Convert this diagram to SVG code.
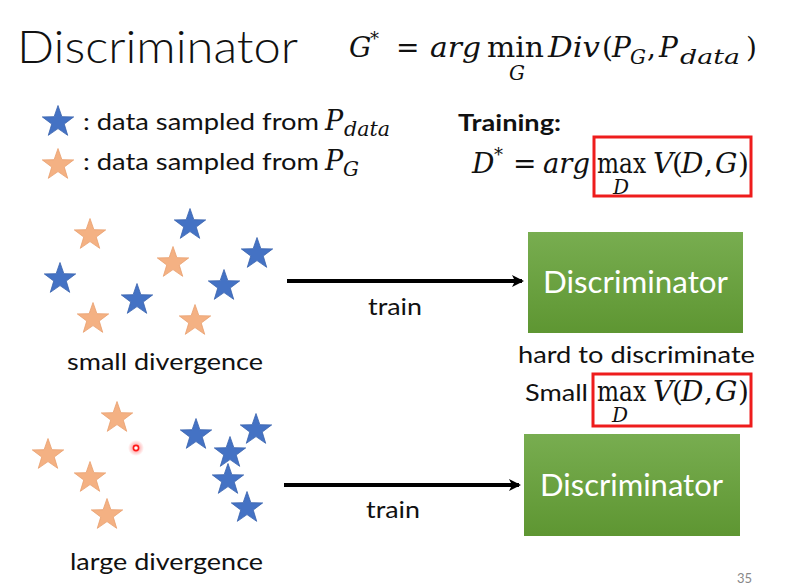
<svg xmlns="http://www.w3.org/2000/svg" width="798" height="588" viewBox="0 0 798 588">
  <style>
    .sans { font-family: Lato, "Open Sans", "Liberation Sans", sans-serif; fill: #111; }
    .math { font-family: "DejaVu Serif", "Liberation Serif", serif; fill: #111; }
    .it { font-style: italic; }
    .box-label { font-family: Lato, "Open Sans", "Liberation Sans", sans-serif; fill: #ffffff; font-size: 31px; }
    .conn { stroke: #000; stroke-width: 4; fill: none; }
    .hl { fill: none; stroke: #ee1c1c; stroke-width: 3; }
    .blue { fill: #4472c4; stroke: #3a63ad; stroke-width: 0.8; }
    .orange { fill: #f4b183; stroke: #e9a06e; stroke-width: 0.8; }
  </style>
  <defs>
    <path id="star" d="M0,-16.5 L3.88,-5.34 L15.69,-5.1 L6.28,2.04 L9.7,13.35 L0,6.6 L-9.7,13.35 L-6.28,2.04 L-15.69,-5.1 L-3.88,-5.34 Z"/>
    <linearGradient id="green" x1="0" y1="0" x2="0" y2="1">
      <stop offset="0" stop-color="#78ad50"/>
      <stop offset="1" stop-color="#5e9632"/>
    </linearGradient>
    <marker id="arrow" markerWidth="12" markerHeight="12" refX="10" refY="6" orient="auto" markerUnits="userSpaceOnUse">
      <path d="M0,0 L12,6 L0,12 L3,6 Z" fill="#000"/>
    </marker>
    <radialGradient id="glow">
      <stop offset="0" stop-color="#ff3030" stop-opacity="0.6"/>
      <stop offset="1" stop-color="#ff3030" stop-opacity="0"/>
    </radialGradient>
  </defs>
  <rect width="798" height="588" fill="#ffffff"/>

  <!-- title -->
  <text id="title" class="sans" x="17" y="63" font-size="45" font-weight="300" textLength="281" lengthAdjust="spacingAndGlyphs">Discriminator</text>

  <!-- objective for G -->
  <g id="objective-g" class="math" font-size="28">
    <text x="349" y="57" class="it">G</text>
    <text x="370" y="45" font-size="18">*</text>
    <text x="396" y="57">=</text>
    <text x="430" y="57" class="it" textLength="51" lengthAdjust="spacingAndGlyphs">arg</text>
    <text x="487" y="57" textLength="57" lengthAdjust="spacingAndGlyphs">min</text>
    <text x="509" y="80" class="it" font-size="20">G</text>
    <text x="548" y="57" class="it" textLength="52" lengthAdjust="spacingAndGlyphs">Div</text>
    <text x="602" y="57">(</text>
    <text x="612" y="57" class="it">P</text>
    <text x="630" y="64" class="it" font-size="20">G</text>
    <text x="647" y="57">,</text>
    <text x="659" y="57" class="it">P</text>
    <text x="680" y="64" class="it" font-size="21" textLength="60" lengthAdjust="spacingAndGlyphs">data</text>
    <text x="746" y="57">)</text>
  </g>

  <!-- legend -->
  <g id="legend">
    <use href="#star" class="blue" x="58" y="122"/>
    <text class="sans" x="83" y="130" font-size="24" textLength="236" lengthAdjust="spacingAndGlyphs">: data sampled from</text>
    <text class="math it" x="325" y="130" font-size="27">P</text>
    <text class="math it" x="344" y="136" font-size="20" textLength="46" lengthAdjust="spacingAndGlyphs">data</text>
    <use href="#star" class="orange" x="58" y="165"/>
    <text class="sans" x="83" y="170" font-size="24" textLength="236" lengthAdjust="spacingAndGlyphs">: data sampled from</text>
    <text class="math it" x="325" y="170" font-size="27">P</text>
    <text class="math it" x="343" y="176" font-size="20">G</text>
  </g>

  <!-- training objective for D -->
  <g id="training">
    <text class="sans" x="458" y="131" font-size="23" font-weight="bold" textLength="103" lengthAdjust="spacingAndGlyphs">Training:</text>
    <g class="math" font-size="28">
      <text x="472" y="173" class="it">D</text>
      <text x="494" y="161" font-size="18">*</text>
      <text x="513" y="173">=</text>
      <text x="543" y="173" class="it" textLength="47" lengthAdjust="spacingAndGlyphs">arg</text>
      <text x="597" y="173" textLength="49" lengthAdjust="spacingAndGlyphs">max</text>
      <text x="613" y="194" class="it" font-size="20">D</text>
      <text x="653" y="173" class="it">V</text>
      <text x="672" y="173">(</text>
      <text x="681" y="173" class="it">D</text>
      <text x="704" y="173">,</text>
      <text x="715" y="173" class="it">G</text>
      <text x="738" y="173">)</text>
    </g>
    <rect class="hl" x="594" y="137" width="157" height="59"/>
  </g>

  <!-- small divergence sample cloud -->
  <g id="small-divergence">
    <use href="#star" class="orange" x="90" y="235"/>
    <use href="#star" class="orange" x="173" y="263"/>
    <use href="#star" class="orange" x="93" y="319"/>
    <use href="#star" class="orange" x="195" y="321"/>
    <use href="#star" class="blue" x="190" y="225"/>
    <use href="#star" class="blue" x="257" y="254"/>
    <use href="#star" class="blue" x="60" y="279"/>
    <use href="#star" class="blue" x="137" y="300"/>
    <use href="#star" class="blue" x="224" y="286"/>
    <text class="sans" x="67" y="370" font-size="24" textLength="196" lengthAdjust="spacingAndGlyphs">small divergence</text>
  </g>

  <!-- large divergence sample cloud -->
  <g id="large-divergence">
    <use href="#star" class="orange" x="117" y="418"/>
    <use href="#star" class="orange" x="48" y="455"/>
    <use href="#star" class="orange" x="90" y="478"/>
    <use href="#star" class="orange" x="107" y="515"/>
    <use href="#star" class="blue" x="196" y="435"/>
    <use href="#star" class="blue" x="256" y="430"/>
    <use href="#star" class="blue" x="230" y="453"/>
    <use href="#star" class="blue" x="228" y="480"/>
    <use href="#star" class="blue" x="247" y="508"/>
    <text class="sans" x="70" y="570" font-size="24" textLength="193" lengthAdjust="spacingAndGlyphs">large divergence</text>
  </g>

  <!-- pointer dot -->
  <g id="pointer">
    <circle cx="136" cy="448" r="8" fill="url(#glow)"/>
    <circle cx="136" cy="448" r="2.6" fill="#fff" stroke="#ff1a1a" stroke-width="1.6"/>
  </g>

  <!-- connectors -->
  <g id="connectors">
    <line class="conn" x1="287" y1="281" x2="522" y2="281" marker-end="url(#arrow)"/>
    <text class="sans" x="368" y="315" font-size="24" textLength="54" lengthAdjust="spacingAndGlyphs">train</text>
    <line class="conn" x1="284" y1="485" x2="519" y2="485" marker-end="url(#arrow)"/>
    <text class="sans" x="366" y="518" font-size="24" textLength="54" lengthAdjust="spacingAndGlyphs">train</text>
  </g>

  <!-- discriminator, small divergence case -->
  <g id="disc-top">
    <rect x="528" y="232" width="215" height="101" fill="url(#green)"/>
    <text class="box-label" x="543" y="293" textLength="185" lengthAdjust="spacingAndGlyphs">Discriminator</text>
  </g>
  <g id="disc-top-note">
    <text class="sans" x="518" y="363" font-size="24" textLength="237" lengthAdjust="spacingAndGlyphs">hard to discriminate</text>
    <text class="sans" x="525" y="401" font-size="24" textLength="63" lengthAdjust="spacingAndGlyphs">Small</text>
    <g class="math" font-size="28">
      <text x="597" y="401" textLength="49" lengthAdjust="spacingAndGlyphs">max</text>
      <text x="612" y="422" class="it" font-size="20">D</text>
      <text x="653" y="401" class="it">V</text>
      <text x="672" y="401">(</text>
      <text x="681" y="401" class="it">D</text>
      <text x="704" y="401">,</text>
      <text x="715" y="401" class="it">G</text>
      <text x="738" y="401">)</text>
    </g>
    <rect class="hl" x="593" y="374" width="158" height="52"/>
  </g>

  <!-- discriminator, large divergence case -->
  <g id="disc-bottom">
    <rect x="524" y="434" width="216" height="102" fill="url(#green)"/>
    <text class="box-label" x="540" y="496" textLength="183" lengthAdjust="spacingAndGlyphs">Discriminator</text>
  </g>

  <text id="page" x="737" y="583" font-family="Lato, 'Liberation Sans', sans-serif" font-size="13" fill="#888">35</text>
</svg>
